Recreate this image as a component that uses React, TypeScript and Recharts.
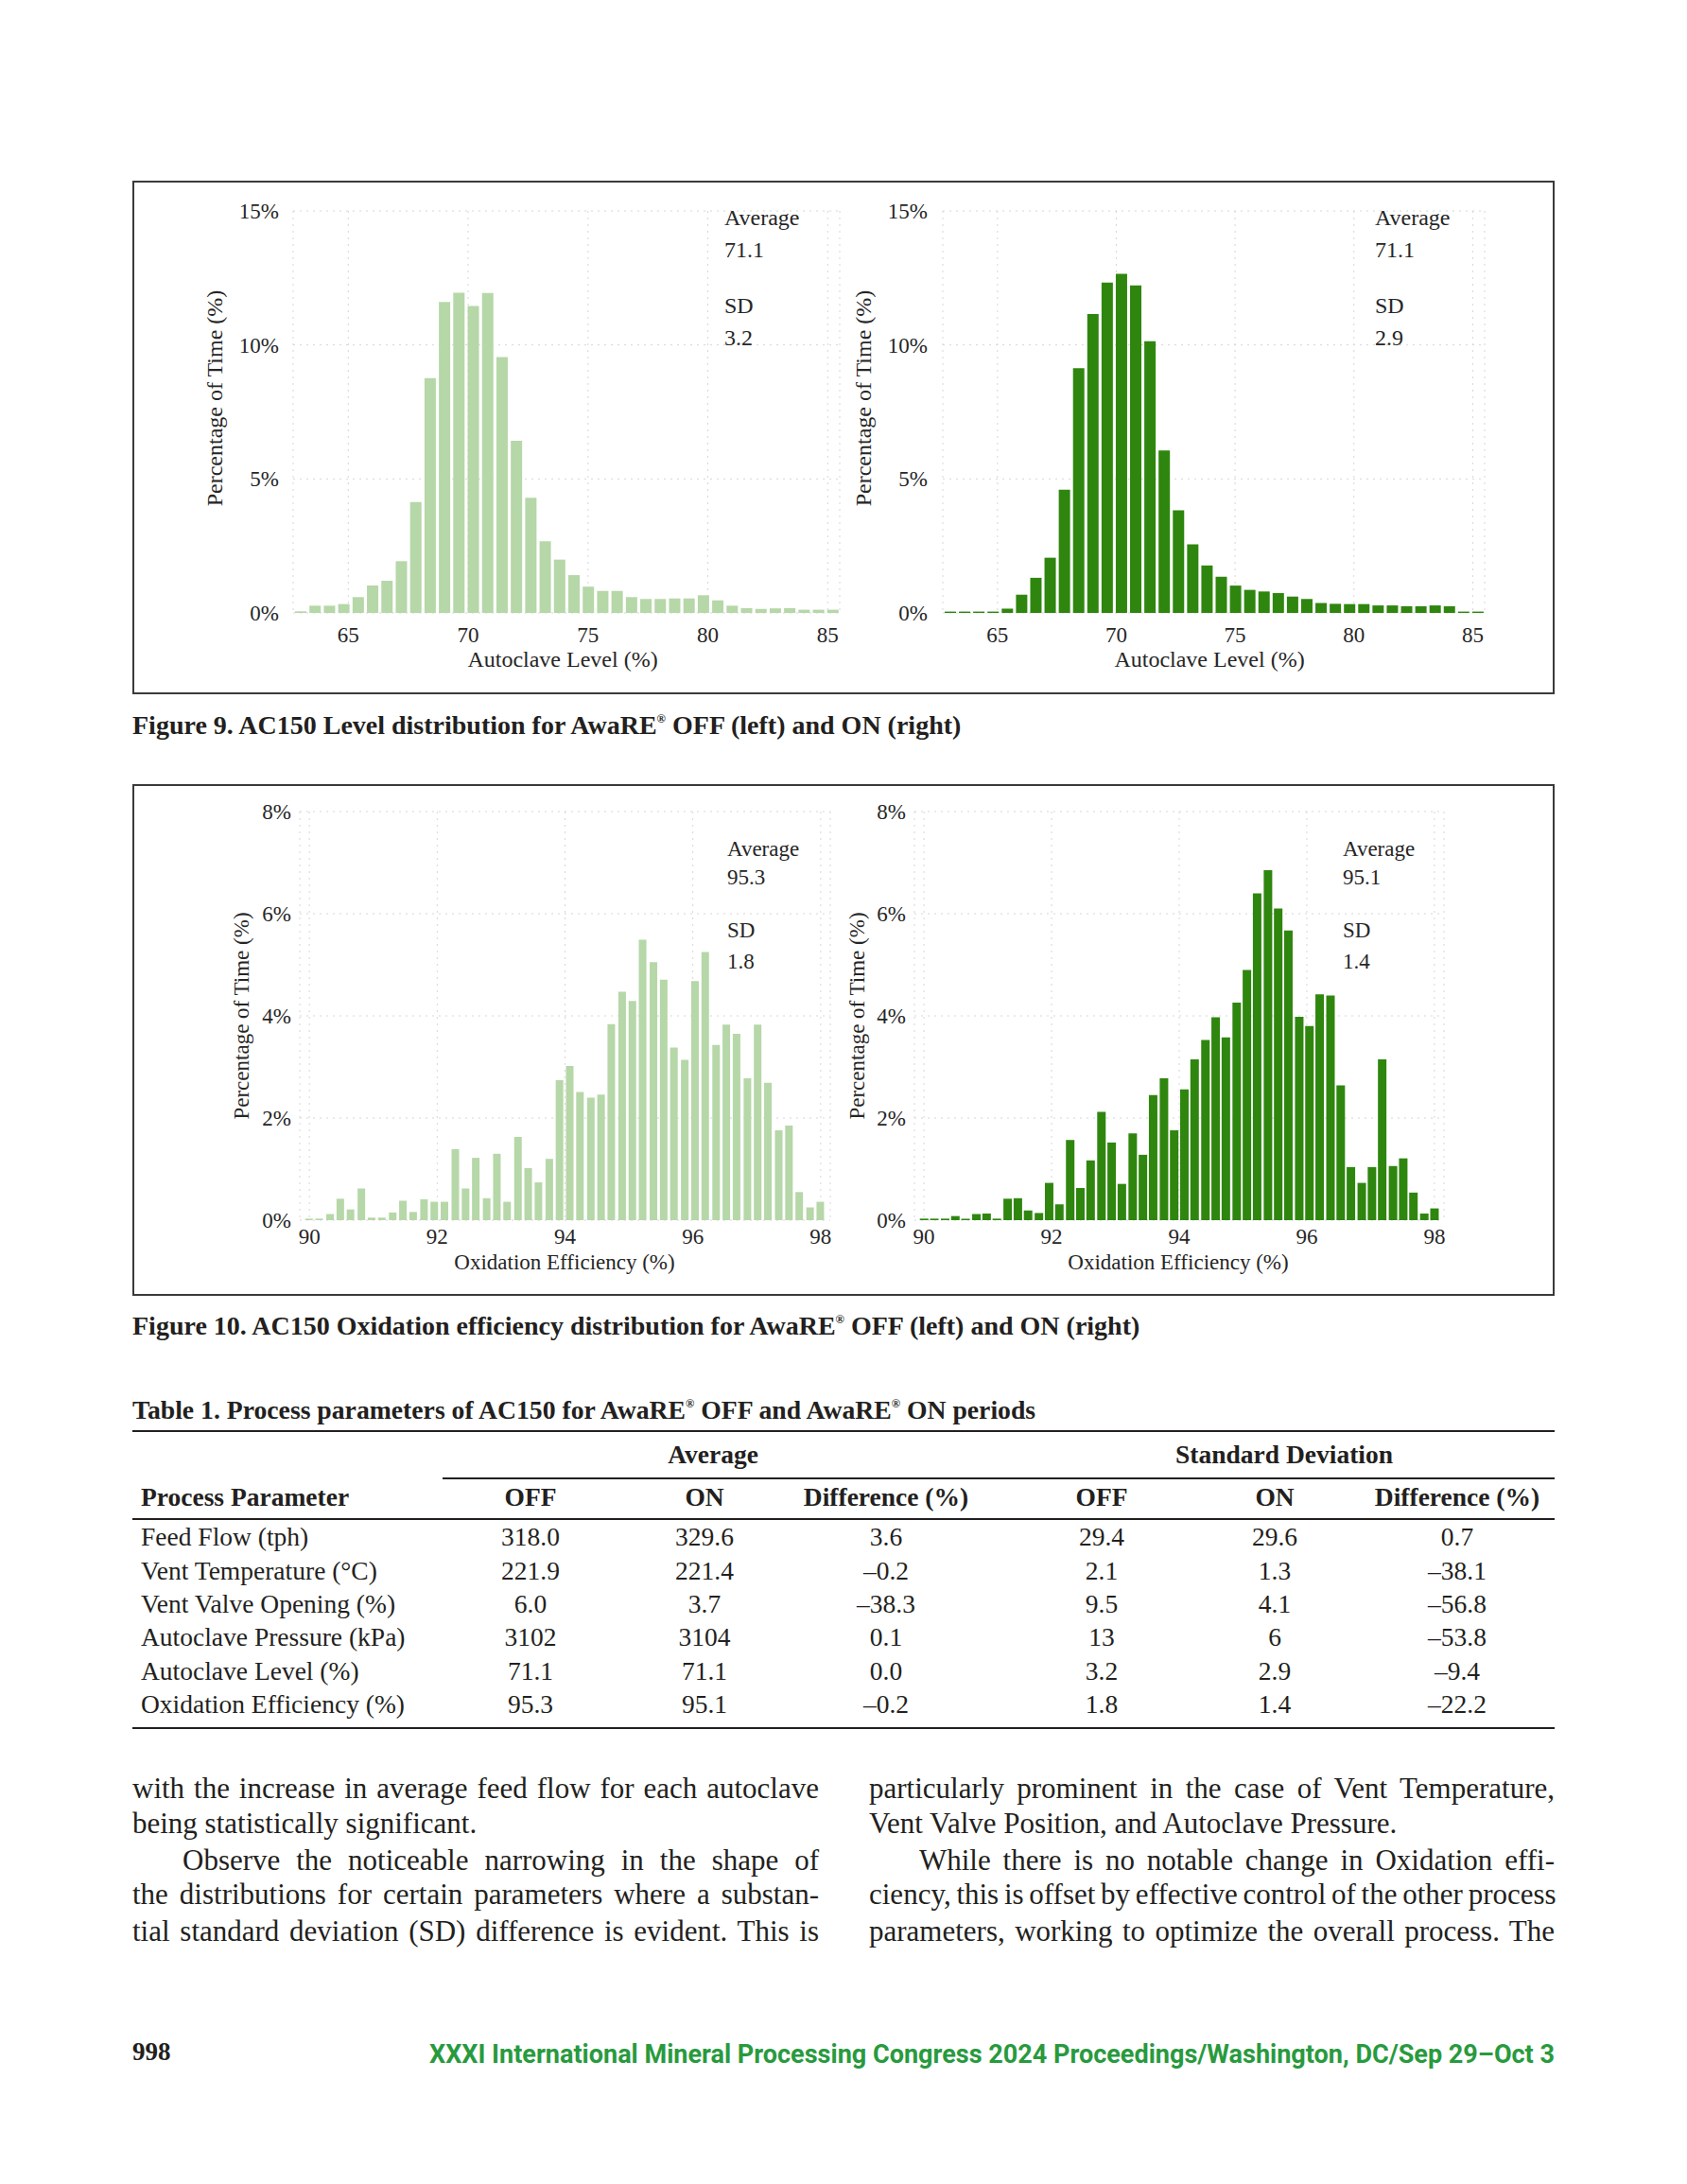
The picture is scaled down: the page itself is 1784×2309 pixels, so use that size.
import { BarChart, Bar, XAxis, YAxis, CartesianGrid } from "recharts";

// ---- Figure 9: autoclave level histograms (bin centres, % of time)
const levelBins = [
  63.0, 63.6, 64.2, 64.8, 65.4, 66.0, 66.6, 67.2, 67.8, 68.4, 69.0, 69.6, 70.2,
  70.8, 71.4, 72.0, 72.6, 73.2, 73.8, 74.4, 75.0, 75.6, 76.2, 76.8, 77.4, 78.0,
  78.6, 79.2, 79.8, 80.4, 81.0, 81.6, 82.2, 82.8, 83.4, 84.0, 84.6, 85.2,
];
const levelOff = [
  0.06, 0.27, 0.27, 0.33, 0.59, 1.02, 1.2, 1.93, 4.14, 8.76, 11.6, 11.95, 11.45,
  11.94, 9.55, 6.42, 4.3, 2.67, 1.99, 1.41, 0.98, 0.82, 0.82, 0.59, 0.52, 0.52,
  0.54, 0.54, 0.66, 0.47, 0.27, 0.18, 0.15, 0.17, 0.18, 0.12, 0.12, 0.12,
];
const levelOn = [
  0.05, 0.05, 0.05, 0.05, 0.16, 0.68, 1.31, 2.06, 4.6, 9.13, 11.15, 12.33, 12.65,
  12.22, 10.14, 6.06, 3.83, 2.56, 1.77, 1.35, 1.02, 0.86, 0.8, 0.74, 0.61, 0.52,
  0.37, 0.34, 0.33, 0.33, 0.28, 0.28, 0.25, 0.25, 0.28, 0.25, 0.05, 0.05,
];
const levelTicks = [65, 70, 75, 80, 85];
const levelPctTicks = [0, 5, 10, 15];

// ---- Figure 10: oxidation efficiency histograms
const oxBins = [
  90.0, 90.16, 90.33, 90.49, 90.65, 90.82, 90.98, 91.14, 91.31, 91.47, 91.63,
  91.8, 91.96, 92.12, 92.29, 92.45, 92.61, 92.78, 92.94, 93.1, 93.27, 93.43,
  93.59, 93.76, 93.92, 94.08, 94.24, 94.41, 94.57, 94.73, 94.9, 95.06, 95.22,
  95.39, 95.55, 95.71, 95.88, 96.04, 96.2, 96.37, 96.53, 96.69, 96.86, 97.02,
  97.18, 97.35, 97.51, 97.67, 97.84, 98.0,
];
const oxOff = [
  0.03, 0.03, 0.12, 0.42, 0.21, 0.62, 0.05, 0.05, 0.15, 0.38, 0.16, 0.41, 0.36,
  0.36, 1.39, 0.62, 1.22, 0.43, 1.3, 0.36, 1.63, 1.02, 0.74, 1.2, 2.74, 3.02,
  2.51, 2.4, 2.46, 3.84, 4.47, 4.29, 5.49, 5.05, 4.71, 3.38, 3.14, 4.68, 5.25,
  3.43, 3.83, 3.65, 2.78, 3.83, 2.69, 1.76, 1.85, 0.55, 0.25, 0.36,
];
const oxOn = [
  0.03, 0.03, 0.03, 0.08, 0.03, 0.12, 0.13, 0.03, 0.42, 0.43, 0.19, 0.14, 0.73,
  0.31, 1.57, 0.63, 1.17, 2.12, 1.52, 0.71, 1.7, 1.28, 2.45, 2.78, 1.76, 2.56,
  3.15, 3.53, 3.97, 3.58, 4.26, 4.9, 6.4, 6.85, 6.1, 5.67, 3.98, 3.8, 4.42, 4.4,
  2.64, 1.04, 0.73, 1.04, 3.15, 1.06, 1.21, 0.54, 0.13, 0.23,
];
const oxTicks = [90, 92, 94, 96, 98];
const oxPctTicks = [0, 2, 4, 6, 8];

// ---- Table 1
const tableParams = [
  "Feed Flow (tph)",
  "Vent Temperature (°C)",
  "Vent Valve Opening (%)",
  "Autoclave Pressure (kPa)",
  "Autoclave Level (%)",
  "Oxidation Efficiency (%)",
];
const avgOff = ["318.0", "221.9", "6.0", "3102", "71.1", "95.3"];
const avgOn = ["329.6", "221.4", "3.7", "3104", "71.1", "95.1"];
const avgDiff = ["3.6", "–0.2", "–38.3", "0.1", "0.0", "–0.2"];
const sdOff = ["29.4", "2.1", "9.5", "13", "3.2", "1.8"];
const sdOn = ["29.6", "1.3", "4.1", "6", "2.9", "1.4"];
const sdDiff = ["0.7", "–38.1", "–56.8", "–53.8", "–9.4", "–22.2"];

const SERIF = "'Liberation Serif', 'Times New Roman', serif";
const INK = "#231f20";
const CHART_INK = "#262626";
const LIGHT = "#b6d7a8";
const DARK = "#2f860f";

type Box = { x: number; y: number; w: number; h: number };
type Plot = { left: number; top: number; right: number; bottom: number };

type HistProps = {
  box: Box;
  plot: Plot;
  bins: number[];
  values: number[];
  color: string;
  xDomain: [number, number];
  xTicks: number[];
  yMax: number;
  yTicks: number[];
  barSize: number;
  yGap: number;
  xGap: number;
  font: number;
};

function Hist(p: HistProps) {
  const YW = 60;
  const XH = 40;
  const rows = p.bins.map((x, i) => ({ x, v: p.values[i] }));
  const margin = {
    top: p.plot.top - p.box.y,
    left: p.plot.left - p.box.x - YW,
    right: p.box.x + p.box.w - p.plot.right,
    bottom: p.box.y + p.box.h - p.plot.bottom - XH,
  };
  const tick = { fontSize: p.font, fill: CHART_INK, fontFamily: SERIF };
  return (
    <div style={{ position: "absolute", left: p.box.x, top: p.box.y }}>
      <BarChart width={p.box.w} height={p.box.h} data={rows} margin={margin}>
        <CartesianGrid stroke="#d6d6d6" strokeDasharray="2 5" />
        <XAxis
          dataKey="x"
          type="number"
          domain={p.xDomain}
          ticks={p.xTicks}
          allowDataOverflow
          interval={0}
          axisLine={false}
          tickLine={false}
          tickSize={0}
          tickMargin={p.xGap}
          height={XH}
          tick={tick}
        />
        <YAxis
          type="number"
          domain={[0, p.yMax]}
          ticks={p.yTicks}
          allowDataOverflow
          interval={0}
          axisLine={false}
          tickLine={false}
          tickSize={0}
          tickMargin={p.yGap}
          width={YW}
          tickFormatter={(v) => `${v}%`}
          tick={tick}
        />
        <Bar dataKey="v" fill={p.color} barSize={p.barSize} isAnimationActive={false} />
      </BarChart>
    </div>
  );
}

type TxtProps = {
  x: number;
  y: number;
  size: number;
  weight?: number;
  align?: "left" | "center" | "right";
  color?: string;
  children: React.ReactNode;
};

function Txt({ x, y, size, weight = 400, align = "left", color = INK, children }: TxtProps) {
  const shift =
    align === "center" ? "translateX(-50%)" : align === "right" ? "translateX(-100%)" : undefined;
  return (
    <div
      style={{
        position: "absolute",
        left: x,
        top: y - size * 0.55,
        fontSize: size,
        lineHeight: 1,
        fontWeight: weight,
        fontFamily: SERIF,
        color,
        whiteSpace: "nowrap",
        transform: shift,
      }}
    >
      {children}
    </div>
  );
}

function VTxt({ x, y, size, children }: { x: number; y: number; size: number; children: React.ReactNode }) {
  return (
    <div
      style={{
        position: "absolute",
        left: x,
        top: y,
        fontSize: size,
        lineHeight: 1,
        fontFamily: SERIF,
        color: CHART_INK,
        whiteSpace: "nowrap",
        transform: "translate(-50%, -50%) rotate(-90deg)",
      }}
    >
      {children}
    </div>
  );
}

const Reg = () => (
  <span style={{ fontSize: "0.45em", position: "relative", top: "-0.95em" }}>®</span>
);

function Stats({ x, ys, avg, sd, size }: { x: number; ys: number[]; avg: string; sd: string; size: number }) {
  const labels = ["Average", avg, "SD", sd];
  return (
    <>
      {labels.map((t, i) => (
        <Txt key={i} x={x} y={ys[i]} size={size} color={CHART_INK}>
          {t}
        </Txt>
      ))}
    </>
  );
}

function Rule({ x, y, w, h = 2 }: { x: number; y: number; w: number; h?: number }) {
  return <div style={{ position: "absolute", left: x, top: y - h / 2, width: w, height: h, background: INK }} />;
}

const leftLines = [
  { t: "with the increase in average feed flow for each autoclave", j: true, ind: false },
  { t: "being statistically significant.", j: false, ind: false },
  { t: "Observe the noticeable narrowing in the shape of", j: true, ind: true },
  { t: "the distributions for certain parameters where a substan-", j: true, ind: false },
  { t: "tial standard deviation (SD) difference is evident. This is", j: true, ind: false },
];
const rightLines = [
  { t: "particularly prominent in the case of Vent Temperature,", j: true, ind: false },
  { t: "Vent Valve Position, and Autoclave Pressure.", j: false, ind: false },
  { t: "While there is no notable change in Oxidation effi-", j: true, ind: true },
  { t: "ciency, this is offset by effective control of the other process", j: true, ind: false },
  { t: "parameters, working to optimize the overall process. The", j: true, ind: false },
];
const lineYs = [1894, 1931, 1970, 2006, 2045];

function Column({ x, w, lines }: { x: number; w: number; lines: { t: string; j: boolean; ind: boolean }[] }) {
  const size = 31;
  const indent = 53;
  return (
    <>
      {lines.map((l, i) => (
        <div
          key={i}
          style={{
            position: "absolute",
            left: x + (l.ind ? indent : 0),
            top: lineYs[i] - size * 0.62,
            width: w - (l.ind ? indent : 0),
            fontSize: size,
            lineHeight: 1,
            fontFamily: SERIF,
            color: INK,
            whiteSpace: "nowrap",
            wordSpacing: l.j ? -2 : 0,
            textAlign: l.j ? "justify" : "left",
            textAlignLast: l.j ? "justify" : "left",
          }}
        >
          {l.t}
        </div>
      ))}
    </>
  );
}

export default function App() {
  const colX = [561, 745, 937, 1165, 1348, 1541];
  const rowY = [1626, 1662, 1697, 1732, 1768, 1803];
  const cols = [avgOff, avgOn, avgDiff, sdOff, sdOn, sdDiff];
  const heads = ["OFF", "ON", "Difference (%)", "OFF", "ON", "Difference (%)"];
  const T = 27.5;

  return (
    <div
      style={{
        position: "absolute",
        left: 0,
        top: 0,
        width: 1784,
        height: 2309,
        background: "#fff",
        overflow: "hidden",
        fontFamily: SERIF,
      }}
    >
      {/* Figure 9 */}
      <div
        style={{
          position: "absolute",
          left: 140,
          top: 191,
          width: 1504,
          height: 543,
          border: "2px solid #3a3a3a",
          boxSizing: "border-box",
        }}
      />
      <Hist
        box={{ x: 142, y: 193, w: 750, h: 539 }}
        plot={{ left: 310, top: 223, right: 888, bottom: 648 }}
        bins={levelBins}
        values={levelOff}
        color={LIGHT}
        xDomain={[62.7, 85.5]}
        xTicks={levelTicks}
        yMax={15}
        yTicks={levelPctTicks}
        barSize={12}
        yGap={15}
        xGap={15}
        font={23}
      />
      <Hist
        box={{ x: 892, y: 193, w: 750, h: 539 }}
        plot={{ left: 997, top: 223, right: 1570, bottom: 648 }}
        bins={levelBins}
        values={levelOn}
        color={DARK}
        xDomain={[62.7, 85.5]}
        xTicks={levelTicks}
        yMax={15}
        yTicks={levelPctTicks}
        barSize={12}
        yGap={16}
        xGap={15}
        font={23}
      />
      <VTxt x={227} y={421} size={24}>Percentage of Time (%)</VTxt>
      <VTxt x={913} y={421} size={24}>Percentage of Time (%)</VTxt>
      <Txt x={595} y={698} size={24} align="center" color={CHART_INK}>Autoclave Level (%)</Txt>
      <Txt x={1279} y={698} size={24} align="center" color={CHART_INK}>Autoclave Level (%)</Txt>
      <Stats x={766} ys={[231, 265, 324, 358]} avg="71.1" sd="3.2" size={24} />
      <Stats x={1454} ys={[231, 265, 324, 358]} avg="71.1" sd="2.9" size={24} />

      <Txt x={140} y={768} size={28} weight={700}>
        Figure 9. AC150 Level distribution for AwaRE<Reg /> OFF (left) and ON (right)
      </Txt>

      {/* Figure 10 */}
      <div
        style={{
          position: "absolute",
          left: 140,
          top: 829,
          width: 1504,
          height: 541,
          border: "2px solid #3a3a3a",
          boxSizing: "border-box",
        }}
      />
      <Hist
        box={{ x: 142, y: 831, w: 750, h: 537 }}
        plot={{ left: 317, top: 858, right: 878, bottom: 1290 }}
        bins={oxBins}
        values={oxOff}
        color={LIGHT}
        xDomain={[89.85, 98.15]}
        xTicks={oxTicks}
        yMax={8}
        yTicks={oxPctTicks}
        barSize={8}
        yGap={9}
        xGap={9}
        font={23}
      />
      <Hist
        box={{ x: 892, y: 831, w: 750, h: 537 }}
        plot={{ left: 967, top: 858, right: 1527, bottom: 1290 }}
        bins={oxBins}
        values={oxOn}
        color={DARK}
        xDomain={[89.85, 98.15]}
        xTicks={oxTicks}
        yMax={8}
        yTicks={oxPctTicks}
        barSize={9}
        yGap={9}
        xGap={9}
        font={23}
      />
      <VTxt x={255} y={1074} size={23}>Percentage of Time (%)</VTxt>
      <VTxt x={906} y={1074} size={23}>Percentage of Time (%)</VTxt>
      <Txt x={597} y={1336} size={23} align="center" color={CHART_INK}>Oxidation Efficiency (%)</Txt>
      <Txt x={1246} y={1336} size={23} align="center" color={CHART_INK}>Oxidation Efficiency (%)</Txt>
      <Stats x={769} ys={[899, 929, 985, 1018]} avg="95.3" sd="1.8" size={23} />
      <Stats x={1420} ys={[899, 929, 985, 1018]} avg="95.1" sd="1.4" size={23} />

      <Txt x={140} y={1403} size={28} weight={700}>
        Figure 10. AC150 Oxidation efficiency distribution for AwaRE<Reg /> OFF (left) and ON (right)
      </Txt>

      {/* Table 1 */}
      <Txt x={140} y={1492} size={27.7} weight={700}>
        Table 1. Process parameters of AC150 for AwaRE<Reg /> OFF and AwaRE<Reg /> ON periods
      </Txt>
      <Rule x={140} y={1513} w={1504} h={2.5} />
      <Txt x={754} y={1539} size={T} weight={700} align="center">Average</Txt>
      <Txt x={1358} y={1539} size={T} weight={700} align="center">Standard Deviation</Txt>
      <Rule x={468} y={1563} w={1176} h={2} />
      <Txt x={149} y={1584} size={T} weight={700}>Process Parameter</Txt>
      {heads.map((h, i) => (
        <Txt key={"h" + i} x={colX[i]} y={1584} size={T} weight={700} align="center">
          {h}
        </Txt>
      ))}
      <Rule x={140} y={1606} w={1504} h={2.5} />
      {tableParams.map((name, r) => (
        <div key={"r" + r}>
          <Txt x={149} y={rowY[r]} size={T}>{name}</Txt>
          {cols.map((c, k) => (
            <Txt key={k} x={colX[k]} y={rowY[r]} size={T} align="center">
              {c[r]}
            </Txt>
          ))}
        </div>
      ))}
      <Rule x={140} y={1827} w={1504} h={2.5} />

      {/* Body text */}
      <Column x={140} w={726} lines={leftLines} />
      <Column x={919} w={725} lines={rightLines} />

      {/* Footer */}
      <Txt x={140} y={2171} size={27} weight={700}>998</Txt>
      <svg style={{ position: "absolute", left: 454, top: 2150 }} width={1192} height={40}>
        <text
          x={0}
          y={30.5}
          textLength={1190}
          lengthAdjust="spacingAndGlyphs"
          fontFamily="Roboto, 'Liberation Sans', sans-serif"
          fontWeight={700}
          fontSize={27}
          fill="#289a3e"
        >
          XXXI International Mineral Processing Congress 2024 Proceedings/Washington, DC/Sep 29–Oct 3
        </text>
      </svg>
    </div>
  );
}
